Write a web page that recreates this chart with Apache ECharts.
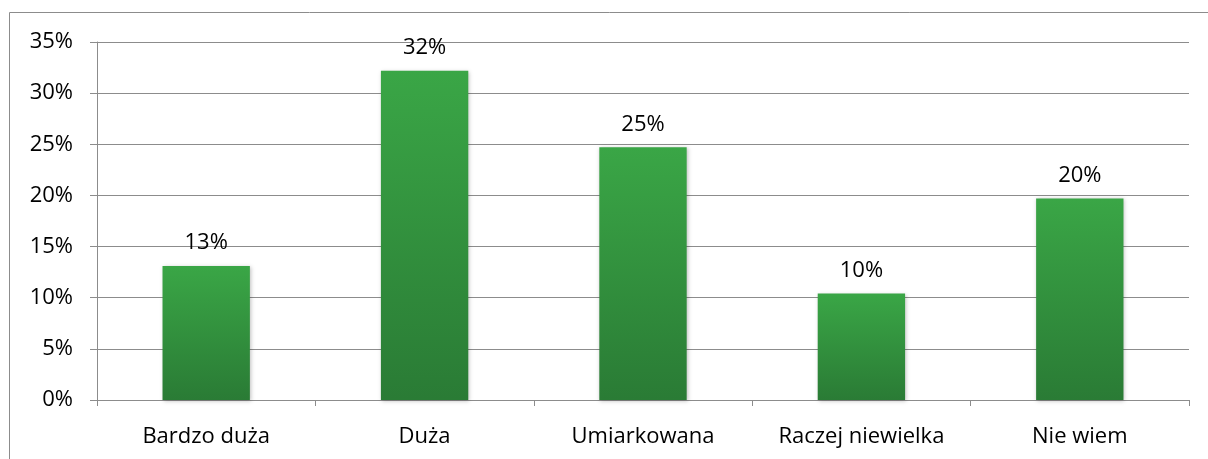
<!DOCTYPE html>
<html>
<head>
<meta charset="utf-8">
<script src="https://cdn.jsdelivr.net/npm/echarts@6/dist/echarts.min.js"></script>
<style>
html,body{margin:0;padding:0;background:#fff;}
#chart{width:1208px;height:459px;}
</style>
</head>
<body>
<div id="chart"></div>
<script>
var categories = ['Bardzo duża', 'Duża', 'Umiarkowana', 'Raczej niewielka', 'Nie wiem'];
var values = [13.1, 32.2, 24.7, 10.4, 19.7];
var yTicks = [0, 5, 10, 15, 20, 25, 30, 35];

var chart = echarts.init(document.getElementById('chart'));
var font = '"Open Sans", sans-serif';

var option = {
    animation: false,
    graphic: [{
        type: 'rect',
        shape: {x: 9.5, y: 12.5, width: 1400, height: 600},
        style: {fill: null, stroke: '#8c8c8c', lineWidth: 1},
        silent: true
    }],
    grid: {left: 97, right: 19, top: 42, bottom: 59},
    xAxis: {
        type: 'category',
        data: categories,
        axisLine: {lineStyle: {color: '#8c8c8c', width: 1}},
        axisTick: {show: true, length: 6, lineStyle: {color: '#8c8c8c'}},
        axisLabel: {color: '#000', fontSize: 22, fontFamily: font, margin: 26}
    },
    yAxis: {
        type: 'value',
        min: yTicks[0],
        max: yTicks[yTicks.length - 1],
        interval: 5,
        axisLine: {show: true, lineStyle: {color: '#8c8c8c', width: 1}},
        axisTick: {show: true, length: 7, lineStyle: {color: '#8c8c8c'}},
        splitLine: {lineStyle: {color: '#8c8c8c', width: 1}},
        axisLabel: {color: '#000', fontSize: 22, fontFamily: font, margin: 24,
            formatter: function (v) { return v + '%'; }}
    },
    series: [{
        type: 'bar',
        data: values,
        barWidth: '40%',
        itemStyle: {
            color: new echarts.graphic.LinearGradient(0, 0, 0, 1, [
                {offset: 0, color: '#3aa646'},
                {offset: 1, color: '#2a7b35'}
            ]),
            shadowColor: 'rgba(0,0,0,0.25)',
            shadowBlur: 4,
            shadowOffsetX: 1,
            shadowOffsetY: 1
        },
        label: {
            show: true,
            position: 'top',
            distance: 12,
            color: '#000',
            fontSize: 22,
            fontFamily: font,
            formatter: function (p) { return Math.round(p.value) + '%'; }
        }
    }]
};
chart.setOption(option);
</script>
</body>
</html>
